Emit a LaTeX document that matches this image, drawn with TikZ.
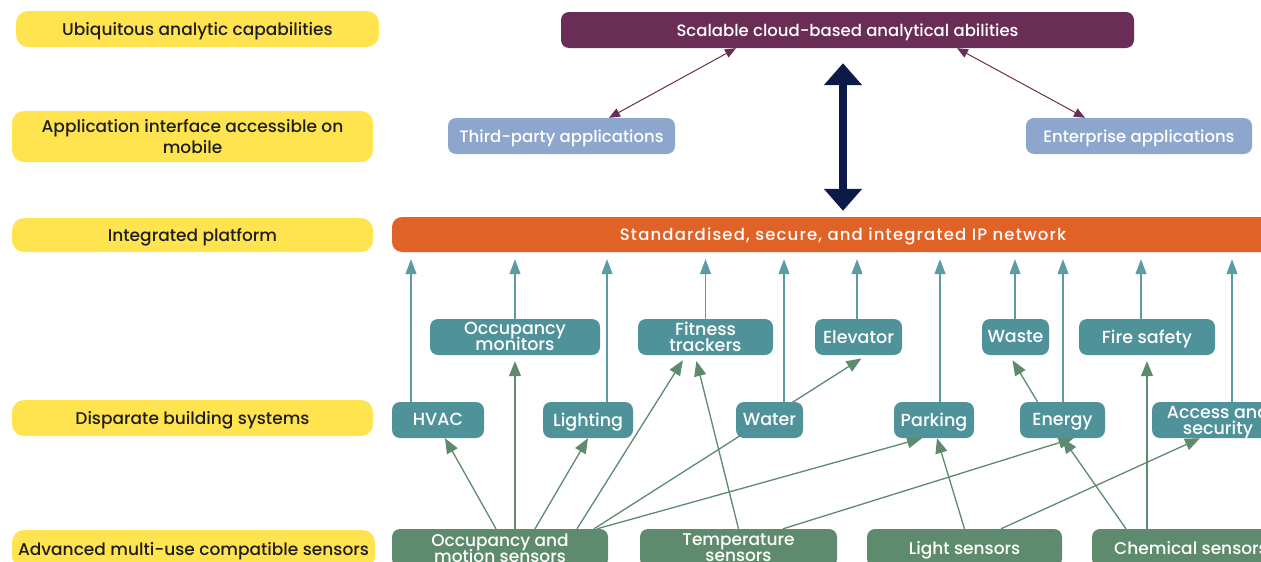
\documentclass[tikz,border=0pt]{standalone}
\usepackage{fontspec}
\setmainfont{Poppins Medium}
\newfontfamily\netfont[LetterSpace=7]{Poppins Medium}
\usepackage{tikz}
\usetikzlibrary{arrows.meta,positioning,calc}
\definecolor{Ink}{HTML}{1E1E1E}
\definecolor{Sun}{HTML}{FFE450}
\definecolor{Plum}{HTML}{6A2D55}
\definecolor{Sky}{HTML}{8CA7CB}
\definecolor{Ember}{HTML}{E06226}
\definecolor{Teal}{HTML}{4F929A}
\definecolor{TealLine}{HTML}{5B9BA3}
\definecolor{Sage}{HTML}{5E8B6E}
\definecolor{Navy}{HTML}{0C1A47}
\pgfdeclarelayer{background}
\pgfsetlayers{background,main}
\tikzset{
  layer/.style={fill=Sun, rounded corners=12pt, text=Ink, align=center, minimum width=361pt, minimum height=36pt, inner sep=2pt, text depth=0.05em, font=\fontsize{17}{21}\selectfont},
  sysbox/.style={fill=Teal, rounded corners=8pt, text=white, align=center, minimum height=36pt, inner sep=2pt, text depth=0.05em, font={\fontsize{17.5}{16}\selectfont\lineskiplimit=-50pt}},
  sensbox/.style={sysbox, fill=Sage, minimum height=38pt, font={\fontsize{17}{16}\selectfont\lineskiplimit=-50pt}},
  appbox/.style={fill=Sky, rounded corners=8pt, text=white, align=center, minimum height=36pt, inner sep=2pt, text depth=0.05em, font=\fontsize{16.5}{19}\selectfont},
  uparrow/.style={-{Triangle[length=15pt,width=11pt]}, draw=TealLine, fill=TealLine, line width=1.3pt, shorten >=7pt},
  feed/.style={-{Triangle[length=15pt,width=12pt]}, draw=Sage, fill=Sage, line width=1.3pt},
  tipgap/.style={shorten >=6pt},
  link/.style={{Triangle[length=11pt,width=9pt]}-{Triangle[length=11pt,width=9pt]}, draw=Plum, line width=1pt},
  bigarrow/.style={{Triangle[length=22pt,width=37pt]}-{Triangle[length=22pt,width=37pt]}, draw=Navy, line width=8pt}
}
\begin{document}
\begin{tikzpicture}[x=1pt, y=-1pt]
  \useasboundingbox (0,0) rectangle (1261,562);
  % layer labels
  \node[layer, minimum width=363pt] (ubiq) at (197.5,29) {Ubiquitous analytic capabilities};
  \node[layer, minimum height=51pt] (mobile) at (192.5,136.5) {Application interface accessible on\\mobile};
  \node[layer, minimum height=34pt] (integ) at (192.5,235) {Integrated platform};
  \node[layer] (dispar) at (192.5,418) {Disparate building systems};
  \node[layer, minimum width=363pt, minimum height=38pt] (advan) at (193.5,549) {Advanced multi-use compatible sensors};
  % cloud, apps and network
  \node[appbox, fill=Plum, minimum width=573pt] (cloud) at (847.5,30) {Scalable cloud-based analytical abilities};
  \node[appbox, minimum width=227pt] (third) at (561.5,136) {Third-party applications};
  \node[appbox, minimum width=226pt] (enter) at (1139,136) {Enterprise applications};
  \node[appbox, fill=Ember, rounded corners=10pt, minimum width=902pt, minimum height=35pt, font=\netfont\fontsize{16.5}{19}\selectfont] (net) at (843,234.5) {Standardised, secure, and integrated IP network};
  % building systems
  \node[sysbox, minimum width=170pt] (occmon) at (515,337) {Occupancy\\monitors};
  \node[sysbox, minimum width=135pt] (fit) at (705.5,337) {Fitness\\trackers};
  \node[sysbox, minimum width=87pt] (elev) at (858.5,337) {Elevator};
  \node[sysbox, minimum width=67pt] (waste) at (1015.5,337) {Waste};
  \node[sysbox, minimum width=136pt] (fire) at (1147,337) {Fire safety};
  \node[sysbox, minimum width=92pt] (hvac) at (438,420) {HVAC};
  \node[sysbox, minimum width=90pt] (lighting) at (588,420) {Lighting};
  \node[sysbox, minimum width=67pt] (water) at (769.5,420) {Water};
  \node[sysbox, minimum width=80pt] (park) at (934,420) {Parking};
  \node[sysbox, minimum width=85pt] (energy) at (1062.5,420) {Energy};
  \node[sysbox, minimum width=132pt] (access) at (1218,420) {Access and\\security};
  % sensors
  \node[sensbox, minimum width=216pt] (occs) at (500,548) {Occupancy and\\motion sensors};
  \node[sensbox, minimum width=197pt] (temp) at (738.5,548) {Temperature\\sensors};
  \node[sensbox, minimum width=195pt] (lights) at (964.5,548) {Light sensors};
  \node[sensbox, minimum width=198pt] (chem) at (1191,548) {Chemical sensors};
  \begin{pgfonlayer}{background}
    \draw[link] ([xshift=-111.5]cloud.south) -- ([xshift=47.5]third.north);
    \draw[link] ([xshift=109.5]cloud.south) -- ([xshift=-54]enter.north);
    \draw[bigarrow, shorten <=15pt, shorten >=6pt] (net.north |- cloud.south) -- (net.north);
    \foreach \sys/\dx in {hvac/-27, occmon/0, lighting/19, fit/0, water/14.5, elev/-1.5, park/6, waste/-0.5, energy/0.5, fire/-6, access/14}
      \draw[uparrow] ([xshift=\dx]\sys.north) -- ([xshift=\dx]\sys.north |- net.south);
    \draw[feed] ([xshift=-4]occs.north) -- ([xshift=7]hvac.south);
    \draw[feed, tipgap] ([xshift=15]occs.north) -- (occmon.south);
    \draw[feed] ([xshift=35]occs.north) -- (lighting.south);
    \draw[feed, tipgap] ([xshift=77]occs.north) -- ([xshift=-19.5]fit.south);
    \draw[feed, tipgap] ([xshift=94]occs.north) -- ([xshift=8]elev.south);
    \draw[feed] ([xshift=97]occs.north) -- ([xshift=-12]park.south);
    \draw[feed, tipgap] (temp.north) -- ([xshift=-10.5]fit.south);
    \draw[feed] ([xshift=44.5]temp.north) -- ([xshift=11]energy.south);
    \draw[feed] (lights.north) -- ([xshift=3]park.south);
    \draw[feed] ([xshift=36.5]lights.north) -- ([xshift=-18]access.south);
    \draw[feed] ([xshift=-65]chem.north) -- (energy.south);
    \draw[feed, tipgap] (chem.north -| fire.south) -- (fire.south);
    \draw[feed, tipgap] ([xshift=-25]energy.north) -- ([xshift=-6]waste.south);
  \end{pgfonlayer}
\end{tikzpicture}
\end{document}
